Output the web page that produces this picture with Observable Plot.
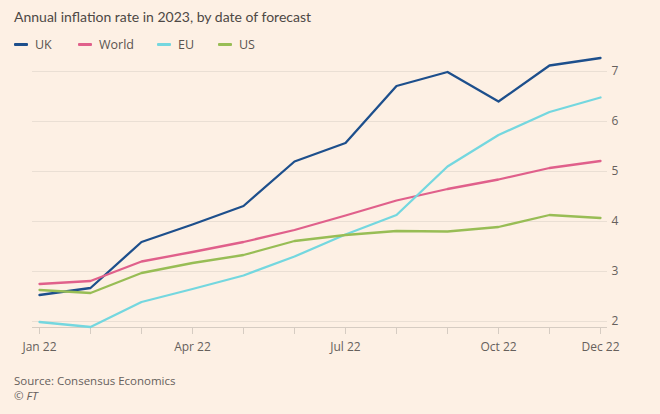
<!DOCTYPE html>
<html>
<head>
<meta charset="utf-8">
<script src="https://cdn.jsdelivr.net/npm/d3@7"></script>
<script src="https://cdn.jsdelivr.net/npm/@observablehq/plot@0.6"></script>
<style>
  html, body { margin: 0; padding: 0; background: #fdf0e4; }
  body { width: 660px; height: 414px; font-family: "Open Sans", "Noto Sans", sans-serif; color: #4d4845; position: relative; overflow: hidden; }
  #title { position: absolute; left: 14px; top: 8px; font-family: Lato, "Open Sans", sans-serif; font-size: 14px; color: #4d4845; }
  #legend { position: absolute; left: 14px; top: 36px; font-size: 12.5px; color: #5a5450; display: flex; }
  .item { display: flex; align-items: center; }
  .sw { display: inline-block; width: 14px; height: 3px; border-radius: 1px; margin-right: 7px; }
  #chart { position: absolute; left: 0; top: 52px; }
  .cap { position: absolute; left: 14px; font-size: 11.5px; color: #66605c; line-height: 14px; }
</style>
</head>
<body>
<div id="title">Annual inflation rate in 2023, by date of forecast</div>
<div id="legend"></div>
<div id="chart"></div>
<div class="cap" style="top:374px">Source: Consensus Economics</div>
<div class="cap" style="top:389px"><i>© FT</i></div>
<script>
const months = ["Jan 22","Feb 22","Mar 22","Apr 22","May 22","Jun 22","Jul 22","Aug 22","Sep 22","Oct 22","Nov 22","Dec 22"];
const tickLabels = ["Jan 22","Apr 22","Jul 22","Oct 22","Dec 22"];
const seriesNames = ["UK","World","EU","US"];
const seriesColors = ["#1d4f8c","#e0608b","#74d7df","#98bd55"];
const uk    = [2.53,2.67,3.59,3.94,4.31,5.20,5.57,6.71,6.99,6.40,7.12,7.27];
const world = [2.75,2.81,3.20,3.39,3.59,3.83,4.12,4.42,4.65,4.84,5.07,5.21];
const eu    = [1.99,1.89,2.39,2.65,2.92,3.30,3.74,4.13,5.10,5.73,6.19,6.48];
const us    = [2.63,2.57,2.97,3.17,3.33,3.61,3.73,3.81,3.80,3.89,4.13,4.07];
const yTicks = [2,3,4,5,6,7];

const all = [uk, world, eu, us];
const data = [];
all.forEach((vals, s) => vals.forEach((v, i) => data.push({month: months[i], value: v, series: seriesNames[s]})));

const legend = document.getElementById("legend");
const gaps = [64, 79, 61, 0];
seriesNames.forEach((n, i) => {
  const d = document.createElement("div");
  d.className = "item";
  d.style.width = gaps[i] ? gaps[i] + "px" : "auto";
  d.innerHTML = `<span class="sw" style="background:${seriesColors[i]}"></span>${n}`;
  legend.appendChild(d);
});

const chart = Plot.plot({
  width: 660,
  height: 308,
  marginLeft: 36,
  marginRight: 57,
  marginTop: 4,
  marginBottom: 33,
  style: {background: "transparent", fontFamily: "'Open Sans', 'Noto Sans', sans-serif", fontSize: "12px", color: "#66605c"},
  x: {type: "point", domain: months, padding: 0, label: null},
  y: {domain: [1.88, 7.3], label: null},
  color: {domain: seriesNames, range: seriesColors},
  marks: [
    Plot.ruleY(yTicks, {stroke: "#eadfd4", strokeWidth: 1, insetLeft: -4, insetRight: -4}),
    Plot.ruleY([1.88], {stroke: "#d6ccc2", strokeWidth: 1, insetLeft: -4, insetRight: -4}),
    Plot.axisX({ticks: months, tickSize: 7, tickPadding: 8, stroke: "#d6ccc2", fill: "#66605c", label: null,
      tickFormat: d => tickLabels.includes(d) ? d : ""}),
    Plot.axisY({anchor: "right", ticks: yTicks, tickSize: 0, tickPadding: 8, fill: "#66605c", label: null, tickFormat: d3.format("d")}),
    Plot.line(data, {x: "month", y: "value", stroke: "series", z: "series", strokeWidth: 2.3, curve: "linear"})
  ]
});
document.getElementById("chart").appendChild(chart);
</script>
</body>
</html>
